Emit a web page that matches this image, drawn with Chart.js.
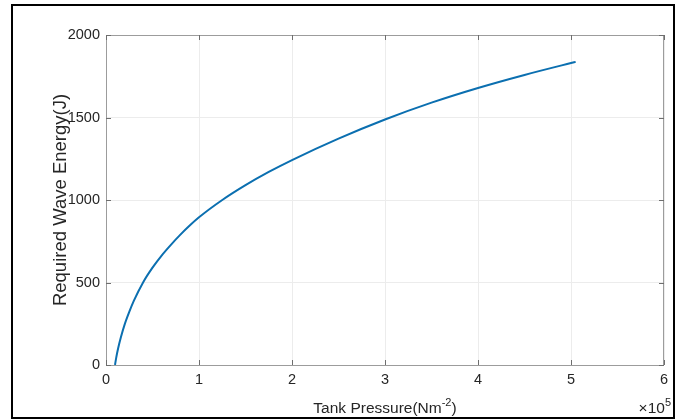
<!DOCTYPE html>
<html>
<head>
<meta charset="utf-8">
<script src="https://cdn.jsdelivr.net/npm/chart.js@4.4.0/dist/chart.umd.min.js"></script>
<style>
  html, body { margin: 0; padding: 0; background: #fff; }
  #wrap { position: relative; width: 684px; height: 419px; }
  #wrap canvas { position: absolute; left: 0; top: 0; }
  #frame { position: absolute; left: 11px; top: 4px; width: 664px; height: 415px;
           box-sizing: border-box; border: 2px solid #000; pointer-events: none; }
</style>
</head>
<body>
<div id="wrap">
  <canvas id="chart" width="684" height="419"></canvas>
  <div id="frame"></div>
</div>
<script>
// Tank pressure (Nm^-2) and the wave energy needed (J).
const pressure = [0.097e5, 0.11e5, 0.13e5, 0.16e5, 0.2e5, 0.25e5, 0.3e5, 0.4e5, 0.5e5, 0.6e5, 0.7e5,
                  0.8e5, 0.9e5, 1.0e5, 1.25e5, 1.5e5, 1.75e5, 2.0e5, 2.5e5, 3.0e5, 3.5e5,
                  4.0e5, 4.5e5, 5.0e5, 5.05e5];
const energy = [0, 45, 100, 168, 245, 322, 390, 502, 590, 665, 730,
                790, 845, 895, 1000, 1090, 1170, 1242, 1372, 1488, 1590,
                1679, 1758, 1830, 1837];
const xTicks = [0, 1, 2, 3, 4, 5, 6];          // in units of 10^5
const yTicks = [0, 500, 1000, 1500, 2000];

const FONT = "'Liberation Sans', Arial, sans-serif";
const INK = '#262626';
const BOX = '#9c9c9c';

// MATLAB-style axes box, inward ticks, x label with superscripts and the exponent.
const matlabAxes = {
    id: 'matlabAxes',
    beforeDatasetsDraw(chart) {
        const { ctx, chartArea: a, scales } = chart;
        ctx.save();
        ctx.strokeStyle = BOX;
        ctx.lineWidth = 1;
        ctx.strokeRect(Math.round(a.left) + 0.5, Math.round(a.top) + 0.5,
                       Math.round(a.right - a.left) - 1, Math.round(a.bottom - a.top));
        ctx.strokeStyle = '#6e6e6e';
        ctx.beginPath();
        xTicks.forEach(t => {
            const x = Math.round(scales.x.getPixelForValue(t * 1e5)) + 0.5;
            ctx.moveTo(x, a.bottom); ctx.lineTo(x, a.bottom - 5);
            ctx.moveTo(x, a.top); ctx.lineTo(x, a.top + 5);
        });
        yTicks.forEach(t => {
            const y = Math.round(scales.y.getPixelForValue(t)) + 0.5;
            ctx.moveTo(a.left, y); ctx.lineTo(a.left + 5, y);
            ctx.moveTo(a.right, y); ctx.lineTo(a.right - 5, y);
        });
        ctx.stroke();
        ctx.restore();
    },
    afterDraw(chart) {
        const { ctx, chartArea: a } = chart;
        ctx.save();
        ctx.fillStyle = INK;
        ctx.textBaseline = 'alphabetic';
        const big = `15.5px ${FONT}`, small = `11px ${FONT}`;
        // x axis title
        const p1 = 'Tank Pressure(Nm', sup = '-2', p2 = ')';
        ctx.font = big;  const w1 = ctx.measureText(p1).width, w3 = ctx.measureText(p2).width;
        ctx.font = small; const w2 = ctx.measureText(sup).width;
        let x = (a.left + a.right) / 2 - (w1 + w2 + w3) / 2;
        const base = 413;
        ctx.font = big; ctx.fillText(p1, x, base); x += w1;
        ctx.font = small; ctx.fillText(sup, x, base - 7); x += w2;
        ctx.font = big; ctx.fillText(p2, x, base);
        // exponent
        const e1 = '\u00d710', e2 = '5';
        ctx.font = big; const we1 = ctx.measureText(e1).width;
        ctx.font = small; const we2 = ctx.measureText(e2).width;
        let ex = 671 - we1 - we2;
        ctx.font = big; ctx.fillText(e1, ex, base);
        ctx.font = small; ctx.fillText(e2, ex + we1, base - 7);
        ctx.restore();
    }
};

new Chart(document.getElementById('chart'), {
    type: 'line',
    data: {
        datasets: [{
            data: pressure.map((p, i) => ({ x: p, y: energy[i] })),
            borderColor: '#0b6fb0',
            borderWidth: 2,
            pointRadius: 0,
            cubicInterpolationMode: 'monotone',
            fill: false,
        }],
    },
    options: {
        responsive: false,
        animation: false,
        layout: { padding: { left: 0, right: 20, top: 35, bottom: 0 } },
        plugins: { legend: { display: false }, tooltip: { enabled: false } },
        scales: {
            x: {
                type: 'linear', min: 0, max: 6e5,
                afterFit: s => { s.height = 54; },
                afterBuildTicks: s => { s.ticks = xTicks.map(v => ({ value: v * 1e5 })); },
                grid: { color: '#ececec', drawTicks: false },
                border: { display: false },
                ticks: { color: INK, font: { family: FONT, size: 14.5 }, padding: 6,
                         maxRotation: 0, callback: v => String(v / 1e5) },
            },
            y: {
                min: 0, max: 2000,
                afterFit: s => { s.width = 106; },
                afterBuildTicks: s => { s.ticks = yTicks.map(v => ({ value: v })); },
                grid: { color: '#ececec', drawTicks: false },
                border: { display: false },
                ticks: { color: INK, font: { family: FONT, size: 14.5 }, padding: 6,
                         callback: v => String(v) },
                title: { display: true, text: 'Required Wave Energy(J)', color: INK,
                         font: { family: FONT, size: 18.5 }, padding: { top: 50, bottom: 0 } },
            },
        },
    },
    plugins: [matlabAxes],
});
</script>
</body>
</html>
